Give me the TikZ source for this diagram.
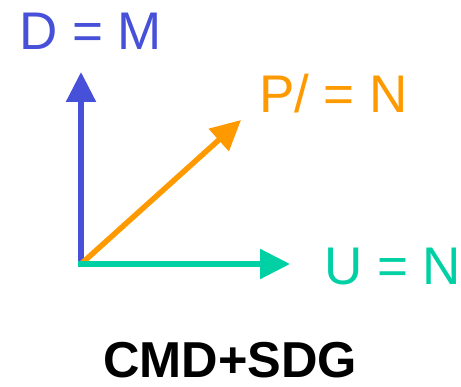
\documentclass[tikz,border=0pt]{standalone}
\usepackage{fontspec}
\setmainfont{Liberation Sans}
\usetikzlibrary{arrows.meta}
\definecolor{cblue}{RGB}{70,80,216}
\definecolor{corange}{RGB}{255,153,0}
\definecolor{cgreen}{RGB}{0,208,164}
\tikzset{
  vec/.style={line width=5.5pt, -{Triangle[length=30pt,width=29pt]}},
  lbl/.style={anchor=base west, inner sep=0pt, font=\fontsize{53}{60}\selectfont}
}
\begin{document}
\begin{tikzpicture}[x=1pt,y=1pt]
\useasboundingbox (0,0) rectangle (461,386);
\coordinate (O) at (81,122);
\coordinate (Dtip) at (81,314);
\coordinate (Utip) at (290,122);
\coordinate (Ptip) at (241,266);
\draw[vec, draw=cblue, fill=cblue] (O) -- (Dtip);
\draw[vec, draw=corange, fill=corange, shorten <=-1pt] (O) -- (Ptip);
\draw[vec, draw=cgreen, fill=cgreen, line cap=rect] (O) -- (Utip);
\node[lbl, text=cblue] (D) at (19,336) {D = M};
\node[lbl, text=corange] (P) at (259,273) {P/ = N};
\node[lbl, text=cgreen] (U) at (324,101) {U = N};
\node[anchor=base, inner sep=0pt, font=\bfseries\fontsize{50.5}{58}\selectfont] (T) at (230,9) {CMD+SDG};
\end{tikzpicture}
\end{document}
